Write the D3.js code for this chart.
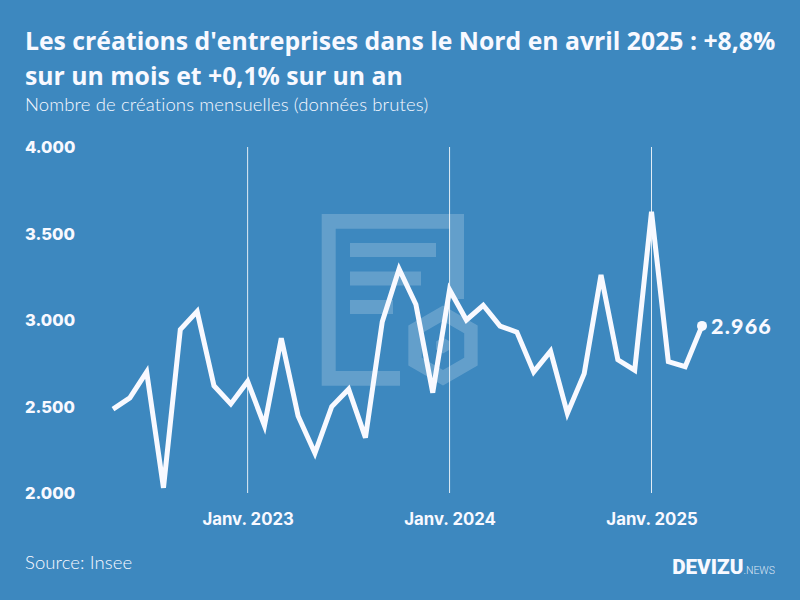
<!DOCTYPE html>
<html>
<head>
<meta charset="utf-8">
<script src="https://cdn.jsdelivr.net/npm/d3@7"></script>
<style>
  html, body { margin: 0; padding: 0; background: #3d88bf; }
  svg { display: block; }
</style>
</head>
<body>
<svg id="mychart" width="800" height="600"></svg>
<script>
const width = 800
const height = 600
const margin = ({top: 147, right: 98, bottom: 107, left: 113})

const months = ["2022-05","2022-06","2022-07","2022-08","2022-09","2022-10","2022-11","2022-12",
  "2023-01","2023-02","2023-03","2023-04","2023-05","2023-06","2023-07","2023-08","2023-09","2023-10","2023-11","2023-12",
  "2024-01","2024-02","2024-03","2024-04","2024-05","2024-06","2024-07","2024-08","2024-09","2024-10","2024-11","2024-12",
  "2025-01","2025-02","2025-03","2025-04"]
const values = [2485,2550,2700,2030,2945,3050,2620,2515,
  2645,2390,2895,2445,2230,2500,2600,2320,2990,3295,3090,2580,
  3175,3000,3085,2965,2930,2700,2820,2460,2690,3260,2770,2710,
  3625,2760,2730,2966]
const yTicks = [2000,2500,3000,3500,4000]
const xTicks = ["2023-01","2024-01","2025-01"]
const xTickLabels = ["Janv. 2023","Janv. 2024","Janv. 2025"]
const titleLines = ["Les créations d'entreprises dans le Nord en avril 2025 : +8,8%", "sur un mois et +0,1% sur un an"]

const x = d3.scalePoint()
  .domain(months)
  .range([margin.left, width - margin.right])

const y = d3.scaleLinear()
  .domain([2000, 4000])
  .range([height - margin.bottom, margin.top])

const fmt = d => d3.format(",")(d).replace(",", ".")
const white = "#f8f9ff"

const svg = d3.select("#mychart").attr("viewBox", [0, 0, width, height])

svg.append("rect").attr("width", width).attr("height", height).attr("fill", "#3d88bf")

// watermark logo
const hex = (cx, cy, r) => d3.range(6).map(i => {
  const a = Math.PI / 3 * i
  return (i ? "L" : "M") + (cx + r * Math.sin(a)) + "," + (cy - r * Math.cos(a))
}).join("") + "Z"

const logo = svg.append("g").attr("fill", "#fff").attr("fill-opacity", 0.2)
logo.append("path")
  .attr("d", "M321.7,214H464V299H450V228.7H335.7V371H400V385.7H321.7Z")
logo.append("rect").attr("x", 350).attr("y", 243).attr("width", 86).attr("height", 14)
logo.append("rect").attr("x", 350).attr("y", 271.5).attr("width", 71).attr("height", 14)
logo.append("rect").attr("x", 350).attr("y", 300).attr("width", 43).attr("height", 14)
logo.append("path").attr("fill-rule", "evenodd")
  .attr("d", hex(443, 345.5, 40) + hex(443, 345.5, 24.5))
logo.append("path").attr("d", hex(443, 345.5, 8))

// january gridlines
svg.append("g")
  .selectAll("line")
  .data(xTicks)
  .join("line")
  .attr("x1", d => x(d)).attr("x2", d => x(d))
  .attr("y1", y(4000)).attr("y2", y(2000))
  .attr("stroke", "#fff").attr("stroke-opacity", 0.85).attr("stroke-width", 1)

const yAxis = g => g
  .attr("transform", "translate(25,0.5)")
  .call(d3.axisRight(y).tickValues(yTicks).tickFormat(fmt).tickSize(0).tickPadding(0))
  .call(g => g.select(".domain").remove())
  .call(g => g.selectAll("text")
    .attr("fill", white)
    .attr("font-family", "Inter")
    .attr("font-weight", 800)
    .attr("font-size", 16.5))

const xAxis = g => g
  .attr("transform", `translate(0,${y(2000)})`)
  .call(d3.axisBottom(x).tickValues(xTicks).tickFormat((d, i) => xTickLabels[i]).tickSize(0).tickPadding(20))
  .call(g => g.select(".domain").remove())
  .call(g => g.selectAll("text")
    .attr("fill", white)
    .attr("font-family", "Inter")
    .attr("font-weight", 700)
    .attr("font-size", 16.8))

svg.append("g").call(yAxis)
svg.append("g").call(xAxis)

const line = d3.line()
  .x((d, i) => x(months[i]))
  .y(d => y(d))

svg.append("path")
  .datum(values)
  .attr("fill", "none")
  .attr("stroke", white)
  .attr("stroke-width", 5)
  .attr("stroke-linejoin", "miter")
  .attr("d", line)

const lastMonth = months[months.length - 1]
const lastValue = values[values.length - 1]

svg.append("circle")
  .attr("cx", x(lastMonth)).attr("cy", y(lastValue)).attr("r", 5)
  .attr("fill", white)

svg.append("text")
  .attr("x", x(lastMonth) + 9).attr("y", y(lastValue) + 8)
  .attr("fill", white)
  .attr("font-family", "Lato").attr("font-weight", 900).attr("font-size", 21.5)
  .attr("letter-spacing", 1.2)
  .text(fmt(lastValue))

// title block
svg.append("g")
  .selectAll("text")
  .data(titleLines)
  .join("text")
  .attr("x", 25)
  .attr("y", (d, i) => 50 + i * 35)
  .attr("fill", white)
  .attr("font-family", "Open Sans").attr("font-weight", 700).attr("font-size", 24.77)
  .text(d => d)

svg.append("text")
  .attr("x", 25).attr("y", 111)
  .attr("fill", white)
  .attr("font-family", "Lato").attr("font-weight", 300).attr("font-size", 18.5)
  .attr("letter-spacing", 0.13)
  .text("Nombre de créations mensuelles (données brutes)")

svg.append("text")
  .attr("x", 25).attr("y", 569)
  .attr("fill", white)
  .attr("font-family", "Lato").attr("font-weight", 300).attr("font-size", 18.5)
  .attr("letter-spacing", 0.1)
  .text("Source: Insee")

// brand
const brand = svg.append("text")
  .attr("x", 775).attr("y", 574)
  .attr("text-anchor", "end")
  .attr("fill", white)
  .attr("font-family", "Roboto")
brand.append("tspan").attr("font-weight", 900).attr("font-size", 20.7).text("DEVIZU")
brand.append("tspan").attr("font-weight", 300).attr("font-size", 10.5).attr("fill-opacity", 0.85).text(".NEWS")
</script>
</body>
</html>
